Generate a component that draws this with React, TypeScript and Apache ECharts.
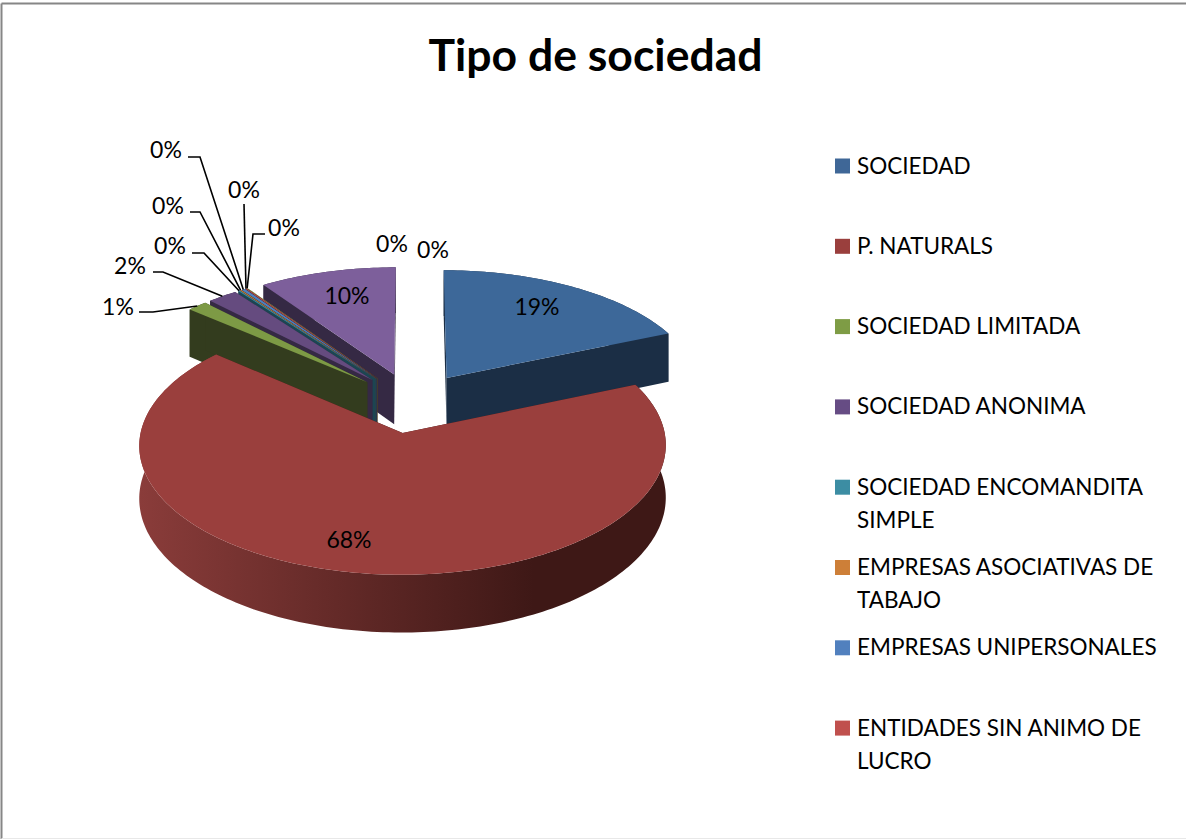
import React, { useEffect, useRef } from "react";
import * as echarts from "echarts";

const titleText = "Tipo de sociedad";
const legendEntries = [
  ["SOCIEDAD"],
  ["P. NATURALS"],
  ["SOCIEDAD LIMITADA"],
  ["SOCIEDAD ANONIMA"],
  ["SOCIEDAD ENCOMANDITA", "SIMPLE"],
  ["EMPRESAS ASOCIATIVAS DE", "TABAJO"],
  ["EMPRESAS UNIPERSONALES"],
  ["ENTIDADES SIN ANIMO DE", "LUCRO"],
];
// Share of each slice, clockwise from 12 o'clock (12 slices, the legend names the first 8)
const sliceValues = [18.6, 67.7, 1.4, 2.1, 0.1, 0.1, 0.25, 0.1, 0.05, 9.6, 0, 0];
const topColors = ["#3D6899", "#9A3F3D", "#7D9A45", "#654B7F", "#3A8CA3", "#CC7B37", "#4F81BD", "#C0504D", "#9BBB59", "#7D5F9B", "#4BACC6", "#F79646"];
const wallLeft = ["#1B2E45", "#8A3C3A", "#333C1E", "#352944", "#1C4552", "#6B3E16", "#223A58", "#5A2422", "#45552A", "#352944", "#205060", "#6B3E16"];
const wallRight = ["#1B2E45", "#3E1816", "#333C1E", "#352944", "#1C4552", "#6B3E16", "#223A58", "#5A2422", "#45552A", "#352944", "#205060", "#6B3E16"];
const legendColors = ["#3F6797", "#9A3F3D", "#7E9C45", "#664C84", "#3C8DA3", "#CD7F38", "#5180BE", "#C0504D"];

// Label layout per slice: label centre, then optional leader knee points
const labelSpots: { x: number; y: number; leader?: number[][] }[] = [
  { x: 537, y: 306 },
  { x: 349, y: 539 },
  { x: 118, y: 306, leader: [[139, 312], [153, 312]] },
  { x: 130, y: 265, leader: [[153, 272], [163, 272]] },
  { x: 170, y: 245, leader: [[192, 253], [204, 253]] },
  { x: 168, y: 205, leader: [[190, 212], [200, 212]] },
  { x: 166, y: 149, leader: [[188, 157], [200, 157]] },
  { x: 244, y: 189, leader: [[244, 204]] },
  { x: 284, y: 227, leader: [[265, 234], [253, 234]] },
  { x: 347, y: 295 },
  { x: 392, y: 243 },
  { x: 433, y: 249 },
];

const FONT = "Lato, Carlito, Calibri, sans-serif";
const CX = 412.5, CY = 402.5, RADIUS = 256, EXPLODE = 63, SQUASH = 0.4775, PERSP = 2705, DEPTH = 51;

function project(u: number, v: number, z: number) {
  const s = 1 / (1 - v / PERSP);
  return [CX + u * s, CY + v * SQUASH * s + z * s];
}

const total = sliceValues.reduce((a, b) => a + b, 0);
let running = 0;
const sliceRows = sliceValues.map((value, i) => {
  const start = running / total;
  running += value;
  return [value, start, running / total, i];
});
const paintRows = sliceRows
  .filter((r) => r[0] > 0)
  .sort((a, b) => Math.cos(Math.PI * (a[1] + a[2])) * -1 - Math.cos(Math.PI * (b[1] + b[2])) * -1);

function sliceGeometry(startF: number, endF: number) {
  const a0 = startF * Math.PI * 2;
  const a1 = endF * Math.PI * 2;
  const mid = (a0 + a1) / 2;
  const ou = EXPLODE * Math.sin(mid);
  const ov = -EXPLODE * Math.cos(mid);
  const steps = Math.max(2, Math.ceil((a1 - a0) / 0.02));
  const rim: number[][] = [];
  for (let k = 0; k <= steps; k++) {
    const a = a0 + ((a1 - a0) * k) / steps;
    rim.push([ou + RADIUS * Math.sin(a), ov - RADIUS * Math.cos(a)]);
  }
  return { ou, ov, rim, midRim: [ou + RADIUS * Math.sin(mid), ov - RADIUS * Math.cos(mid)] };
}

function renderSlice(_: any, api: any) {
  const startF = api.value(1);
  const endF = api.value(2);
  const idx = api.value(3);
  const { ou, ov, rim } = sliceGeometry(startF, endF);
  const top = rim.map((p) => project(p[0], p[1], 0));
  const bottom = rim.map((p) => project(p[0], p[1], DEPTH));
  const apexT = project(ou, ov, 0);
  const apexB = project(ou, ov, DEPTH);
  const cut = wallRight[idx];
  const wallFill = new echarts.graphic.LinearGradient(0, 0, 1, 0, [
    { offset: 0, color: wallLeft[idx] },
    { offset: 0.75, color: wallRight[idx] },
    { offset: 1, color: wallRight[idx] },
  ]);
  return {
    type: "group",
    children: [
      { type: "polygon", shape: { points: [apexT, top[0], bottom[0], apexB] }, style: { fill: cut } },
      { type: "polygon", shape: { points: [apexT, top[top.length - 1], bottom[bottom.length - 1], apexB] }, style: { fill: cut } },
      { type: "polygon", shape: { points: [...top, ...bottom.slice().reverse()] }, style: { fill: wallFill } },
      { type: "polygon", shape: { points: [apexT, ...top] }, style: { fill: topColors[idx] } },
    ],
  };
}

function renderLabel(_: any, api: any) {
  const value = api.value(0);
  const startF = api.value(1);
  const endF = api.value(2);
  const idx = api.value(3);
  const spot = labelSpots[idx];
  const children: any[] = [
    {
      type: "text",
      x: spot.x,
      y: spot.y,
      style: {
        text: `${Math.round((value / total) * 100)}%`,
        fill: "#000",
        fontSize: 23,
        fontFamily: FONT,
        align: "center",
        verticalAlign: "middle",
      },
    },
  ];
  if (spot.leader) {
    const { midRim } = sliceGeometry(startF, endF);
    children.push({
      type: "polyline",
      shape: { points: [...spot.leader, project(midRim[0], midRim[1], 0)] },
      style: { stroke: "#000", lineWidth: 1.6, fill: "none" },
    });
  }
  return { type: "group", children };
}

const LEGEND_TOP = 165, LEGEND_STEP = 80.3, LEGEND_LINE = 33;
const legendGraphics: any[] = legendEntries.flatMap((lines, i) => {
  const y = LEGEND_TOP + i * LEGEND_STEP;
  return [
    { type: "rect", shape: { x: 835, y: y - 6.5, width: 15, height: 15 }, style: { fill: legendColors[i] } },
    ...lines.map((line, j) => ({
      type: "text",
      x: 857,
      y: y + j * LEGEND_LINE,
      style: { text: line, fill: "#000", fontSize: 22.5, fontFamily: FONT, align: "left", verticalAlign: "middle" },
    })),
  ];
});

export default function App() {
  const ref = useRef<HTMLDivElement>(null);
  useEffect(() => {
    const chart = echarts.init(ref.current!, undefined, { renderer: "svg" });
    chart.setOption({
      animation: false,
      backgroundColor: "#fff",
      title: {
        text: titleText,
        left: 590.5,
        top: 26,
        textAlign: "center",
        textStyle: { fontFamily: FONT, fontSize: 44.5, fontWeight: "bold", color: "#000" },
      },
      graphic: [
        { type: "line", shape: { x1: 1.5, y1: 3.5, x2: 1186, y2: 3.5 }, style: { stroke: "#868686", lineWidth: 2 } },
        { type: "line", shape: { x1: 1.5, y1: 3.5, x2: 1.5, y2: 839 }, style: { stroke: "#868686", lineWidth: 2 } },
        { type: "line", shape: { x1: 1.5, y1: 838.5, x2: 1186, y2: 838.5 }, style: { stroke: "#e8e8e8", lineWidth: 1 } },
        ...legendGraphics,
      ],
      series: [
        { type: "custom", coordinateSystem: "none", silent: true, clip: false, z: 2, data: paintRows, renderItem: renderSlice },
        { type: "custom", coordinateSystem: "none", silent: true, clip: false, z: 3, data: sliceRows, renderItem: renderLabel },
      ],
    });
    return () => chart.dispose();
  }, []);
  return <div ref={ref} style={{ position: "absolute", left: 0, top: 0, width: 1186, height: 839 }} />;
}
